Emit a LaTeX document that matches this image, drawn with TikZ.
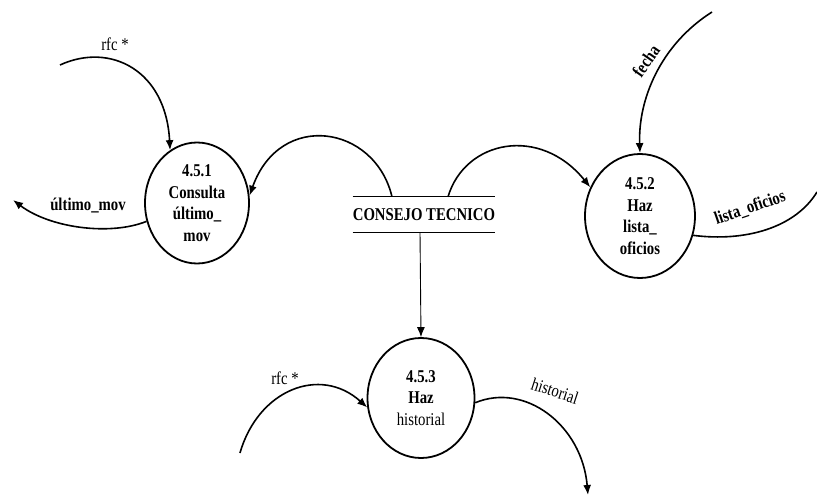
\documentclass[tikz,border=0pt]{standalone}
\usepackage{fontspec}
\setmainfont[FakeStretch=0.82]{Liberation Serif}
\usetikzlibrary{arrows.meta,shapes.geometric}
\begin{document}
\begin{tikzpicture}[x=1pt,y=-1pt,
  flow/.style={line width=1.6pt,-{Latex[length=10pt,width=8pt]}},
  proc/.style={ellipse,draw,line width=1.8pt,inner sep=0pt,align=center,
    font=\fontsize{18}{21.5}\selectfont\bfseries},
  lbl/.style={font=\fontsize{18}{20}\selectfont,inner sep=0pt}]
\useasboundingbox (0,0) rectangle (817,497);

% processes
\node[proc,minimum width=104pt,minimum height=121pt] (c1) at (197,203)
  {4.5.1\\Consulta\\último\_\\mov};
\node[proc,minimum width=110pt,minimum height=124pt] (c2) at (640,216)
  {4.5.2\\Haz\\lista\_\\oficios};
\node[proc,minimum width=107pt,minimum height=120pt] (c3) at (421,398)
  {4.5.3\\Haz\\\mdseries historial};

% data store
\node[minimum width=142pt,minimum height=35pt,inner sep=0pt,
  font=\fontsize{18}{20}\selectfont\bfseries] (st) at (424,214.5) {CONSEJO TECNICO};
\draw[line width=1.3pt] (st.north west) -- (st.north east);
\draw[line width=1.3pt] (st.south west) -- (st.south east);

% free ends
\coordinate (rfcA) at (60,65);
\coordinate (ultA) at (13,200);
\coordinate (fecA) at (712,12);
\coordinate (lisA) at (817,192);
\coordinate (rfcB) at (240,453);
\coordinate (hisA) at (588,495);

% store flows
\draw[flow] ([xshift=-32pt]st.north) .. controls (375,125) and (280,110) .. (c1.8);
\draw[flow] ([xshift=24pt]st.north) .. controls (465,140) and (540,125) .. (c2.150);
\draw[line width=0.9pt,-{Latex[length=10pt,width=8pt]}] ([xshift=-4pt]st.south) -- (c3.north);

% other flows
\draw[flow] (rfcA) .. controls (110,42) and (166,70) .. (c1.117);
\draw[flow] (c1.200) .. controls (110,236) and (50,228) .. (ultA);
\draw[flow] (fecA) .. controls (660,45) and (638,100) .. (c2.north);
\draw[line width=1.6pt] (c2.-20) .. controls (745,242) and (795,228) .. (lisA);
\draw[flow] (rfcB) .. controls (258,390) and (320,365) .. (c3.190);
\draw[flow] (c3.-5) .. controls (525,382) and (582,425) .. (hisA);

% labels
\node[lbl] at (115,44) {rfc *};
\node[lbl,font=\fontsize{18}{20}\selectfont\bfseries] at (88,206) {último\_mov};
\node[lbl,rotate=55,font=\fontsize{18}{20}\selectfont\bfseries] at (646,61) {fecha};
\node[lbl,rotate=19,font=\fontsize{18}{20}\selectfont\bfseries] at (750,208) {lista\_oficios};
\node[lbl] at (285,378) {rfc *};
\node[lbl,rotate=-18] at (555,391) {historial};
\end{tikzpicture}
\end{document}
